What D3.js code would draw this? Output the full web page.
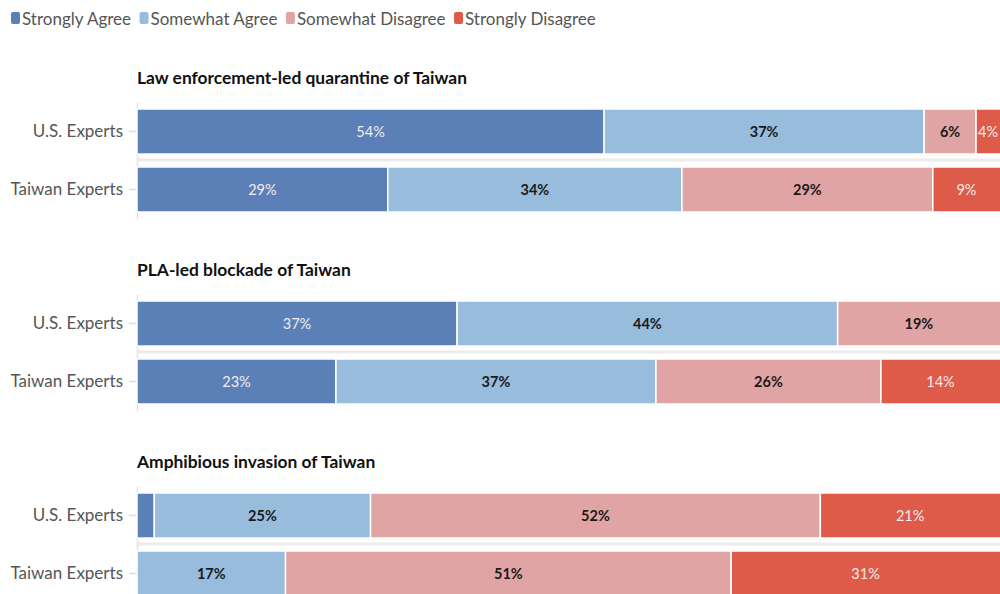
<!DOCTYPE html>
<html>
<head>
<meta charset="utf-8">
<script src="https://cdn.jsdelivr.net/npm/d3@7"></script>
<style>
  html, body { margin: 0; padding: 0; background: #fff; overflow: hidden; }
  svg { display: block; font-family: Lato, "Noto Sans", sans-serif; }
</style>
</head>
<body>
<svg id="chart" width="1000" height="594"></svg>
<script>
// Response categories, in stacking order
const responses = ["Strongly Agree", "Somewhat Agree", "Somewhat Disagree", "Strongly Disagree"];
const responseColors = ["#5b80b8", "#97bcdc", "#e1a4a4", "#de5b49"];
const labelOnDark = [true, false, false, true];

// Respondent groups
const groups = ["U.S. Experts", "Taiwan Experts"];

// Scenarios
const scenarios = [
  "Law enforcement-led quarantine of Taiwan",
  "PLA-led blockade of Taiwan",
  "Amphibious invasion of Taiwan"
];

// Percent shares per scenario, one row per group, columns follow `responses`
const quarantineUS = [54, 37, 6, 4];
const quarantineTW = [29, 34, 29, 9];
const blockadeUS = [37, 44, 19, 0];
const blockadeTW = [23, 37, 26, 14];
const invasionUS = [2, 25, 52, 21];
const invasionTW = [0, 17, 51, 31];

const scenarioValues = [
  [quarantineUS, quarantineTW],
  [blockadeUS, blockadeTW],
  [invasionUS, invasionTW]
];

const svg = d3.select("#chart");

const color = d3.scaleOrdinal().domain(responses).range(responseColors);

// Legend
const legend = svg.append("g").attr("class", "legend");
let lx = 11;
responses.forEach((r, i) => {
  const item = legend.append("g");
  item.append("rect")
    .attr("x", lx).attr("y", 12)
    .attr("width", 9).attr("height", 12)
    .attr("rx", 2)
    .attr("fill", color(r));
  const t = item.append("text")
    .attr("x", lx + 11).attr("y", 24.5)
    .attr("font-size", 17)
    .attr("fill", "#555")
    .text(r);
  lx += 11 + t.node().getComputedTextLength() + 8.5;
});

const panelStep = 192;

scenarios.forEach((title, p) => {
  const off = p * panelStep;
  const g = svg.append("g").attr("class", "panel");

  g.append("text")
    .attr("x", 137).attr("y", 84 + off)
    .attr("font-size", 17.4)
    .attr("font-weight", 700)
    .attr("fill", "#111")
    .text(title);

  const y = d3.scaleBand()
    .domain(groups)
    .range([102 + off, 219 + off])
    .paddingInner(13 / 58)
    .paddingOuter(7 / 58);

  // separator between the two rows
  g.append("line")
    .attr("x1", 137).attr("x2", 1000)
    .attr("y1", y(groups[0]) + y.bandwidth() + 6)
    .attr("y2", y(groups[0]) + y.bandwidth() + 6)
    .attr("stroke", "#ececec")
    .attr("stroke-width", 3);

  // category axis
  const axis = g.append("g")
    .attr("transform", "translate(137,0)")
    .call(d3.axisLeft(y).tickSize(8).tickSizeOuter(0).tickPadding(6));
  axis.select(".domain").attr("stroke", "#e3e3e3").attr("stroke-width", 1.5);
  axis.selectAll(".tick line").attr("stroke", "#dcdcdc").attr("stroke-width", 1.5);
  axis.selectAll(".tick text")
    .attr("font-size", 17)
    .attr("font-family", "Lato, 'Noto Sans', sans-serif")
    .attr("fill", "#555");

  groups.forEach((grp, gi) => {
    const vals = scenarioValues[p][gi];
    const total = d3.sum(vals);
    // rows that round to less than 100% are stretched to the full width
    const x = d3.scaleLinear().domain([0, Math.min(100, total)]).range([137, 1002]);
    const stack = [];
    let acc = 0;
    vals.forEach((v, k) => {
      stack.push({ key: responses[k], k, v, x0: acc, x1: acc + v });
      acc += v;
    });
    const row = g.append("g");
    const segs = row.selectAll("g.seg")
      .data(stack.filter(d => d.v > 0))
      .join("g").attr("class", "seg");
    segs.append("rect")
      .attr("x", d => x(d.x0))
      .attr("y", y(grp))
      .attr("width", d => x(d.x1) - x(d.x0))
      .attr("height", y.bandwidth())
      .attr("fill", d => color(d.key))
      .attr("stroke", "#fff")
      .attr("stroke-width", 1.5);
    segs.filter(d => d.v >= 3)
      .append("text")
      .attr("x", d => (x(d.x0) + Math.min(x(d.x1), 1000)) / 2)
      .attr("y", y(grp) + y.bandwidth() / 2)
      .attr("dy", "0.35em")
      .attr("text-anchor", "middle")
      .attr("font-size", 14.5)
      .attr("font-weight", d => labelOnDark[d.k] ? 400 : 700)
      .attr("fill", d => labelOnDark[d.k] ? "#f3ecec" : "#1a1a1a")
      .text(d => d.v + "%");
  });
});
</script>
</body>
</html>
